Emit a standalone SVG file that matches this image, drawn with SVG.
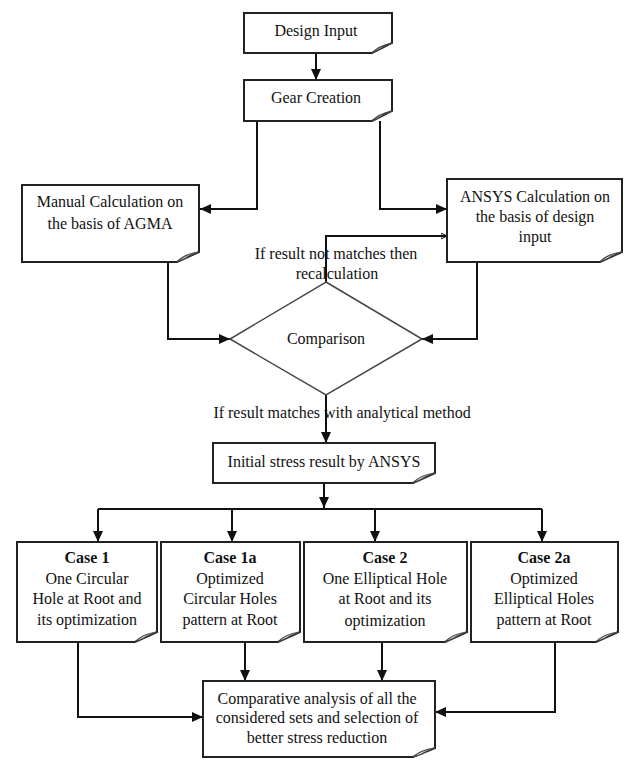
<svg xmlns="http://www.w3.org/2000/svg" width="624" height="760" viewBox="0 0 624 760">
<style>
.box{fill:#fff;stroke:#222;stroke-width:2;}
.fold{fill:#d8d8d8;stroke:#444;stroke-width:1.2;}
.t{font-family:"Liberation Serif","Times New Roman",serif;font-size:16px;fill:#111;text-anchor:middle;dominant-baseline:central;}
.b{font-weight:bold;}
.c{fill:none;stroke:#111;stroke-width:2;}
</style>
<defs>
<marker id="ah" markerUnits="userSpaceOnUse" markerWidth="12" markerHeight="10" refX="11" refY="5" orient="auto">
<path d="M0,0 L11,5 L0,10 Z" fill="#111"/>
</marker>
<marker id="sm" markerUnits="userSpaceOnUse" markerWidth="8" markerHeight="8" refX="6" refY="3" orient="auto">
<path d="M0,0 L6,3 L0,6 Z" fill="none" stroke="#111" stroke-width="1"/>
</marker>
</defs>
<rect width="624" height="760" fill="#fff"/>

<g id="connectors">
<path class="c" d="M316,53 V80" marker-end="url(#ah)"/>
<path class="c" d="M257,121 V209 H200" marker-end="url(#ah)"/>
<path class="c" d="M380,121 V209 H447" marker-end="url(#ah)"/>
<path class="c" d="M168,262 V339 H230" marker-end="url(#ah)"/>
<path class="c" d="M477,262 V339 H422" marker-end="url(#ah)"/>
<path class="c" d="M326,282 V236 H447" marker-end="url(#sm)"/>
<path class="c" d="M326,395 V443" marker-end="url(#ah)"/>
<path class="c" d="M324,483 V508" marker-end="url(#ah)"/>
<path class="c" d="M98,509 H542"/>
<path class="c" d="M98,509 V542" marker-end="url(#ah)"/>
<path class="c" d="M232,509 V542" marker-end="url(#ah)"/>
<path class="c" d="M375,509 V542" marker-end="url(#ah)"/>
<path class="c" d="M542,509 V542" marker-end="url(#ah)"/>
<path class="c" d="M78,642 V717 H203" marker-end="url(#ah)"/>
<path class="c" d="M245,642 V681" marker-end="url(#ah)"/>
<path class="c" d="M382,642 V681" marker-end="url(#ah)"/>
<path class="c" d="M555,642 V712 H435" marker-end="url(#ah)"/>
</g>

<g id="design-input">
<path class="box" d="M244,13 H392 V43 L372,53 H244 Z"/>
<path class="fold" d="M372,53 Q378,46 392,43 Q382,47 380,49 Z"/>
<text class="t" x="316" y="30">Design Input</text>
</g>

<g id="gear-creation">
<path class="box" d="M244,80 H392 V111 L372,121 H244 Z"/>
<path class="fold" d="M372,121 Q378,114 392,111 Q382,115 380,117 Z"/>
<text class="t" x="316" y="97">Gear Creation</text>
</g>

<g id="manual-calculation">
<path class="box" d="M22,185 H199 V252 L177,262 H22 Z"/>
<path class="fold" d="M177,262 Q184,254 199,252 Q188,256 186,258 Z"/>
<text class="t" x="110" y="201">Manual Calculation on</text>
<text class="t" x="110" y="223">the basis of AGMA</text>
</g>

<g id="ansys-calculation">
<path class="box" d="M447,179 H622 V252 L600,262 H447 Z"/>
<path class="fold" d="M600,262 Q607,254 622,252 Q611,256 609,258 Z"/>
<text class="t" x="535" y="196">ANSYS Calculation on</text>
<text class="t" x="535" y="216">the basis of design</text>
<text class="t" x="535" y="236">input</text>
</g>

<g id="feedback-label">
<text class="t" x="336" y="253">If result not matches then</text>
<text class="t" x="337" y="273">recalculation</text>
</g>

<g id="comparison">
<path class="box" d="M326,282 L422,339 L326,395 L230,339 Z" style="stroke:#444;stroke-width:1.5"/>
<text class="t" x="326" y="338">Comparison</text>
</g>

<g id="match-label">
<text class="t" x="342" y="412">If result matches with analytical method</text>
</g>

<g id="initial-stress">
<path class="box" d="M213,443 H435 V473 L413,483 H213 Z"/>
<path class="fold" d="M413,483 Q420,475 435,473 Q424,477 422,479 Z"/>
<text class="t" x="324" y="461">Initial stress result by ANSYS</text>
</g>

<g id="case1">
<path class="box" d="M17,542 H157 V632 L135,642 H17 Z"/>
<path class="fold" d="M135,642 Q142,634 157,632 Q146,636 144,638 Z"/>
<text class="t b" x="87" y="557">Case 1</text>
<text class="t" x="87" y="578">One Circular</text>
<text class="t" x="87" y="598">Hole at Root and</text>
<text class="t" x="87" y="619">its optimization</text>
</g>

<g id="case1a">
<path class="box" d="M161,542 H300 V632 L278,642 H161 Z"/>
<path class="fold" d="M278,642 Q285,634 300,632 Q289,636 287,638 Z"/>
<text class="t b" x="230" y="557">Case 1a</text>
<text class="t" x="230" y="578">Optimized</text>
<text class="t" x="230" y="598">Circular Holes</text>
<text class="t" x="230" y="619">pattern at Root</text>
</g>

<g id="case2">
<path class="box" d="M304,542 H467 V632 L445,642 H304 Z"/>
<path class="fold" d="M445,642 Q452,634 467,632 Q456,636 454,638 Z"/>
<text class="t b" x="385" y="557">Case 2</text>
<text class="t" x="385" y="578">One Elliptical Hole</text>
<text class="t" x="385" y="598">at Root and its</text>
<text class="t" x="385" y="620">optimization</text>
</g>

<g id="case2a">
<path class="box" d="M471,542 H618 V632 L596,642 H471 Z"/>
<path class="fold" d="M596,642 Q603,634 618,632 Q607,636 605,638 Z"/>
<text class="t b" x="544" y="557">Case 2a</text>
<text class="t" x="544" y="578">Optimized</text>
<text class="t" x="544" y="598">Elliptical Holes</text>
<text class="t" x="544" y="619">pattern at Root</text>
</g>

<g id="comparative-analysis">
<path class="box" d="M203,681 H435 V748 L413,757 H203 Z"/>
<path class="fold" d="M413,757 Q420,750 435,748 Q424,752 422,754 Z"/>
<text class="t" x="317" y="698">Comparative analysis of all the</text>
<text class="t" x="317" y="717">considered sets and selection of</text>
<text class="t" x="317" y="737">better stress reduction</text>
</g>
</svg>
